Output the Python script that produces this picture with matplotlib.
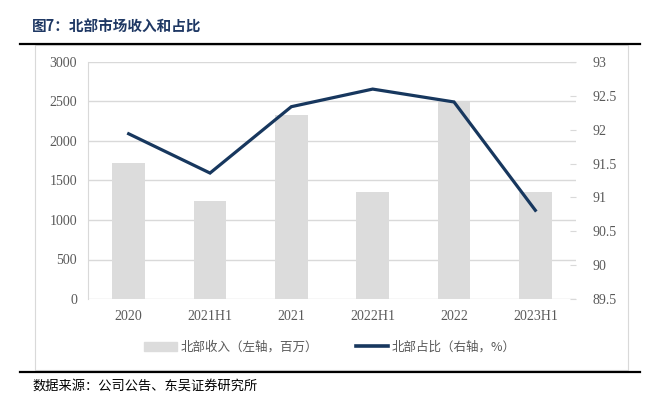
import matplotlib.pyplot as plt
from matplotlib.lines import Line2D
from matplotlib.patches import Patch, Rectangle
import numpy as np

plt.rcParams['font.family'] = ['Liberation Serif', 'Noto Sans CJK SC', 'DejaVu Sans']

periods = ["2020", "2021H1", "2021", "2022H1", "2022", "2023H1"]
revenue = [1720, 1240, 2330, 1355, 2495, 1355]   # 左轴, 百万
share = [91.94, 91.36, 92.34, 92.60, 92.41, 90.81]  # 右轴, %

BAR_C = "#DCDCDC"
LINE_C = "#17375E"
GRID_C = "#D9D9D9"
TXT_C = "#595959"
CJK = ['Noto Sans CJK SC', 'DejaVu Sans']

fig = plt.figure(figsize=(6.53, 4.01), dpi=100)
W, H = 653, 401

# outer light frame and black rules
fig.add_artist(Rectangle((35 / W, 1 - 370 / H), (628 - 35) / W, (370 - 45) / H,
                         transform=fig.transFigure, fill=False, ec="#D9D9D9", lw=0.8))
fig.add_artist(Line2D([20 / W, 640 / W], [1 - 44 / H] * 2, color="black", lw=1.6))
fig.add_artist(Line2D([20 / W, 640 / W], [1 - 372 / H] * 2, color="black", lw=1.6))

fig.text(32 / W, 1 - 27 / H, "图7：北部市场收入和占比", family=CJK, fontsize=10.5,
         fontweight="bold", color="#1F3864", va="center", ha="left")
fig.text(32 / W, 1 - 386 / H, "数据来源：公司公告、东吴证券研究所", family=CJK,
         fontsize=9.5, color="black", va="center", ha="left")

ax = fig.add_axes([88 / W, 1 - 299 / H, (576 - 88) / W, (299 - 62) / H])
x = np.arange(len(periods))
ax.bar(x, revenue, width=0.4, color=BAR_C, zorder=2)
ax.set_ylim(0, 3000)
ax.set_yticks(range(0, 3001, 500))
ax.set_xlim(-0.5, len(periods) - 0.5)
ax.set_xticks(x)
ax.set_xticklabels(periods)
ax.yaxis.grid(True, color=GRID_C, lw=1, zorder=0)
for s in ["top", "right", "bottom"]:
    ax.spines[s].set_visible(False)
ax.spines["left"].set_color(GRID_C)
ax.tick_params(axis="both", length=0, labelsize=10, labelcolor=TXT_C, pad=8)

ax2 = ax.twinx()
ax2.plot(x, share, color=LINE_C, lw=2.3, solid_joinstyle="miter", zorder=3)
ax2.set_ylim(89.5, 93)
ax2.set_yticks(np.arange(89.5, 93.01, 0.5))
ax2.set_yticklabels(["89.5", "90", "90.5", "91", "91.5", "92", "92.5", "93"])
for s in ["top", "left", "bottom", "right"]:
    ax2.spines[s].set_visible(False)
ax2.tick_params(axis="y", direction="in", length=4, color=GRID_C,
                labelsize=10, labelcolor=TXT_C, pad=12)

handles = [Patch(color=BAR_C), Line2D([], [], color=LINE_C, lw=2.6)]
labels = ["北部收入（左轴，百万）", "北部占比（右轴，%）"]
leg = fig.legend(handles, labels, loc="center", bbox_to_anchor=(330 / W, 1 - 347 / H),
                 ncol=2, frameon=False, prop={"family": CJK, "size": 9},
                 handlelength=2.6, handleheight=0.7, columnspacing=3.0, handletextpad=0.3)
for t in leg.get_texts():
    t.set_color(TXT_C)

fig.savefig("out.png", dpi=100)
